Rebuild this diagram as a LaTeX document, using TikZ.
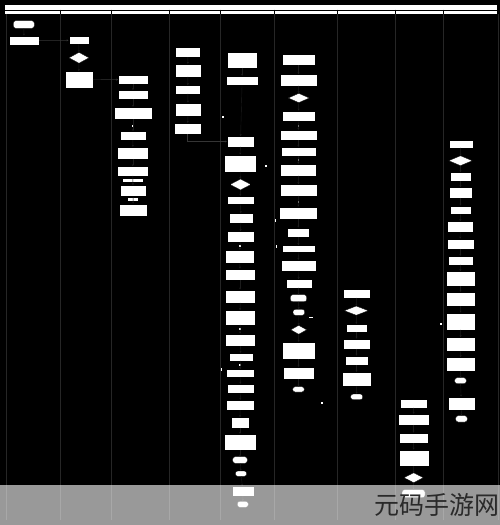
\documentclass[tikz,border=0pt]{standalone}
\usepackage{fontspec}
\newfontfamily\cjk{Noto Sans CJK SC}
\usetikzlibrary{shapes.geometric,arrows.meta}
\definecolor{lanec}{HTML}{262626}
\definecolor{linec}{HTML}{1C1C1C}
\definecolor{faint}{HTML}{353535}
\definecolor{wmtext}{HTML}{2A2A2A}
\tikzset{
  bx/.style={rectangle,draw=black,fill=white,line width=0.3pt,inner sep=0pt},
  tm/.style={bx,rounded corners=2.5pt},
  dm/.style={diamond,draw=black,fill=white,line width=0.3pt,inner sep=0pt},
  mk/.style={rectangle,fill=white,draw=none,inner sep=0pt},
  cn/.style={draw=linec,line width=0.4pt,-{Stealth[length=2pt,width=2pt]}},
  fc/.style={draw=faint,line width=0.4pt,-{Stealth[length=2pt,width=2pt]}},
  lane/.style={draw=lanec,line width=0.6pt}
}
\newcommand\bxe[5]{\node[bx,minimum width={(#4-#2)*1pt},minimum height={(#5-#3)*1pt}] (#1) at ({(#2+#4)/2},{(#3+#5)/2}) {};}
\newcommand\tme[5]{\node[tm,minimum width={(#4-#2)*1pt},minimum height={(#5-#3)*1pt}] (#1) at ({(#2+#4)/2},{(#3+#5)/2}) {};}
\newcommand\dme[5]{\node[dm,minimum width={(#4-#2)*1pt},minimum height={(#5-#3)*1pt}] (#1) at ({(#2+#4)/2},{(#3+#5)/2}) {};}
\newcommand\mke[5]{\node[mk,minimum width={#4pt},minimum height={#5pt}] (#1) at (#2,#3) {};}
\begin{document}
\begin{tikzpicture}[x=1pt,y=-1pt]
\fill[black] (0,0) rectangle (500,525);
\useasboundingbox (0,0) rectangle (500,525);
% header
\fill[white] (5,5) rectangle (497,14);
\draw[black,line width=0.4pt] (5,9.7) -- (497,9.7);
\foreach \x in {60,111,169,220,274,337,395,443}{
  \draw[black,line width=0.4pt] (\x,9.7) -- (\x,14);
  \draw[lane] (\x,14) -- (\x,520);
}
\draw[lane] (6,14) -- (6,520);
\draw[lane] (498,14) -- (498,520);
% lane 1
\tme{a1}{13.3}{20.7}{34.3}{28.3}
\bxe{a2}{9}{35.7}{39}{45.3}
% lane 2
\bxe{b2}{68.7}{36.3}{88.7}{44.3}
\dme{b3}{69}{52.3}{89}{63.3}
\bxe{b4}{64.7}{71.3}{92.7}{87.7}
% lane 3
\bxe{c1}{118.3}{75.3}{147.7}{84}
\bxe{c2}{117.7}{90.3}{148.3}{99.3}
\bxe{c3}{113.7}{107}{152.3}{119.3}
\bxe{c4}{120.3}{131.3}{145.7}{140}
\bxe{c5}{117.3}{147}{148.3}{158.7}
\bxe{c6}{117.3}{166.3}{148.3}{175.7}
\bxe{c7}{120}{185.3}{146}{196}
\bxe{c8}{119.3}{203.7}{147}{216}
\mke{cb1}{133}{180.5}{19.3}{2.3}
\mke{cb2}{133}{199.5}{10.7}{2.3}
% lane 4
\bxe{e1}{175.3}{47.3}{200.3}{57}
\bxe{e2}{174.7}{64}{201}{76.7}
\bxe{e3}{175.3}{85.3}{200.3}{93.7}
\bxe{e4}{175.3}{102.7}{200.7}{116.3}
\bxe{e5}{174}{123}{201.3}{134.3}
% lane 5
\bxe{d1}{227}{52.3}{257.3}{67.7}
\bxe{d2}{226}{76}{258.3}{85.3}
\bxe{d3}{227}{136.3}{254}{146.7}
\bxe{d4}{224}{154.7}{256}{171.7}
\dme{d5}{230}{179}{251}{190}
\bxe{d6}{226.7}{196}{254}{204.3}
\bxe{d7}{228.7}{213.3}{253.3}{222.7}
\bxe{d8}{226.7}{231.3}{254}{242}
\bxe{d9}{225.3}{250}{254}{263.5}
\bxe{d10}{225.3}{268.7}{255}{280.3}
\bxe{d11}{225.3}{289.7}{255}{302.7}
\bxe{d12}{225}{310.3}{255}{324.7}
\bxe{d13}{225.3}{333.7}{255}{346}
\bxe{d14}{228.7}{353}{252.7}{360.7}
\bxe{d15}{226}{369.3}{254}{377.3}
\bxe{d16}{227.3}{384}{254}{393.3}
\bxe{d17}{226}{400}{254.3}{410}
\bxe{d18}{230.7}{417.3}{249.3}{427.7}
\bxe{d19}{224.3}{434}{255.7}{450}
\tme{d20}{232.7}{456.7}{247.3}{463.3}
\tme{d21}{235.3}{471}{246.7}{476.3}
\bxe{d22}{231.7}{486.3}{254}{496}
\tme{d23}{237.3}{501.3}{248.3}{507.3}
% lane 6
\bxe{f1}{281.7}{54}{315.3}{65.3}
\bxe{f2}{280.3}{74.3}{316.7}{85.7}
\dme{f3}{288.3}{93.3}{309.3}{102.7}
\bxe{f4}{281.7}{110.7}{315.3}{121.3}
\bxe{f5}{280}{130}{316.7}{140.3}
\bxe{f6}{281}{147}{315.7}{156.3}
\bxe{f7}{280.3}{164}{316.3}{175.7}
\bxe{f8}{280.3}{184.3}{316.7}{195.7}
\bxe{f9}{279.3}{206.7}{317.3}{219}
\bxe{f10}{287.3}{227.7}{309.3}{237}
\bxe{f11}{282.3}{245.3}{314.7}{252.3}
\bxe{f12}{281}{260}{315.7}{271.3}
\bxe{f13}{285.7}{279.3}{311.7}{287.7}
\tme{f14}{290.3}{294.7}{306.7}{301.7}
\tme{f15}{293}{309.3}{304.7}{315.3}
\dme{f16}{290.7}{325.3}{306.7}{334.3}
\bxe{f17}{281.7}{342}{315.3}{359}
\bxe{f18}{283.3}{367}{313.7}{379}
\tme{f19}{292.7}{386.7}{304.3}{392}
% lane 7
\bxe{g1}{343.3}{289.3}{369.7}{297.7}
\dme{g2}{344.3}{306}{368.3}{315.3}
\bxe{g3}{346}{324}{367}{332}
\bxe{g4}{343.3}{338.7}{369.7}{348.7}
\bxe{g5}{345}{355.7}{368}{365.3}
\bxe{g6}{342}{372}{371}{386.3}
\tme{g7}{350.7}{394}{362.7}{399.7}
% lane 8
\bxe{h1}{400}{398.7}{427.3}{407.7}
\bxe{h2}{398.3}{414}{428.7}{424.7}
\bxe{h3}{399}{432.7}{428}{443}
\bxe{h4}{398.7}{449.7}{428.7}{466}
\dme{h5}{404}{472.7}{423.3}{482.7}
\tme{h6}{402}{489.7}{425}{497.7}
% lane 9
\bxe{k1}{448.7}{140}{472.7}{147.7}
\dme{k2}{448.7}{155.7}{472.3}{165.7}
\bxe{k3}{450.3}{172.3}{470.7}{181}
\bxe{k4}{449}{187.3}{472}{197.7}
\bxe{k5}{450.3}{205.7}{470.7}{214.3}
\bxe{k6}{447.3}{221.3}{473}{232}
\bxe{k7}{446.7}{238.7}{474}{248.7}
\bxe{k8}{448}{256}{472.7}{264.7}
\bxe{k9}{446.3}{271.3}{474.7}{286}
\bxe{k10}{445.7}{292}{475.3}{306}
\bxe{k11}{446}{312.7}{475.3}{329.7}
\bxe{k12}{446}{337.3}{475}{351.3}
\bxe{k13}{446.3}{357.3}{475}{371}
\tme{k14}{454.7}{377.7}{466.3}{383.7}
\bxe{k15}{447.7}{396.7}{475}{410.3}
\tme{k16}{455.7}{415.7}{467.3}{422}
% edge label marks
\mke{m1}{133}{125.8}{2.3}{2.3}
\mke{m2}{222.7}{116.7}{2}{2}
\mke{m3}{240}{245.5}{1.5}{2}
\mke{m4}{240}{328.7}{1.5}{2}
\mke{m5}{240}{365.3}{1.5}{2}
\mke{m6}{221.7}{369.3}{1.2}{2.5}
\mke{m7}{322.3}{403.3}{2}{2}
\mke{m8}{441.3}{323.7}{2}{2}
\mke{m9}{310.5}{317.3}{4}{1.3}
\mke{m10}{298.7}{125.7}{1.2}{2}
\mke{m11}{298.7}{160}{1.2}{2}
\mke{m12}{298.7}{201.7}{1.2}{2}
\mke{m13}{266}{165.7}{1.5}{2}
\mke{m14}{275.7}{220}{1}{3}
\mke{m15}{276.7}{246.7}{1}{3}
% connectors
\draw[cn] (a1) -- (a2);
\draw[fc] (a2) -- (b2);
\draw[cn] (b2) -- (b3);
\draw[cn] (b3) -- (b4);
\draw[fc] (b4.east) -- (c1.west);
\foreach \i [evaluate=\i as \j using int(\i+1)] in {1,...,7}{\draw[cn] (c\i) -- (c\j);}
\foreach \i [evaluate=\i as \j using int(\i+1)] in {1,...,4}{\draw[cn] (e\i) -- (e\j);}
\draw[fc] (e5.south) |- (d3.west);
\foreach \i [evaluate=\i as \j using int(\i+1)] in {1,...,22}{\draw[cn] (d\i) -- (d\j);}
\foreach \i [evaluate=\i as \j using int(\i+1)] in {1,...,18}{\draw[cn] (f\i) -- (f\j);}
\foreach \i [evaluate=\i as \j using int(\i+1)] in {1,...,6}{\draw[cn] (g\i) -- (g\j);}
\foreach \i [evaluate=\i as \j using int(\i+1)] in {1,...,5}{\draw[cn] (h\i) -- (h\j);}
\foreach \i [evaluate=\i as \j using int(\i+1)] in {1,...,15}{\draw[cn] (k\i) -- (k\j);}
% watermark band
\fill[white,opacity=0.6] (0,484.7) rectangle (500,525);
\node[anchor=east,inner sep=0pt,text=wmtext,font=\cjk\fontsize{25}{25}\selectfont] (wm) at (500,505) {元码手游网};
\end{tikzpicture}
\end{document}
